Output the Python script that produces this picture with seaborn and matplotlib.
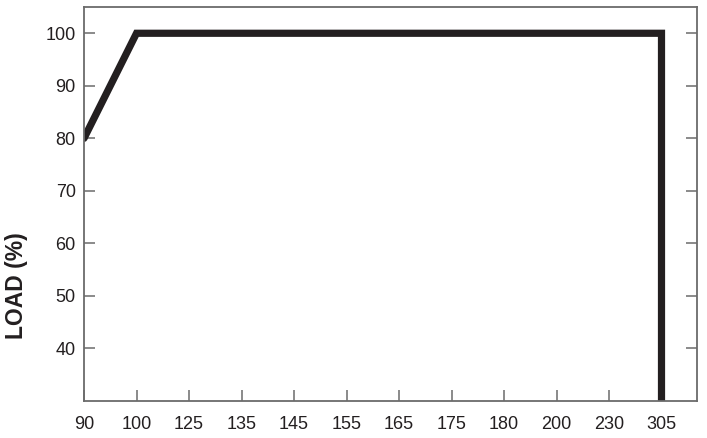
import matplotlib
matplotlib.use("Agg")
import matplotlib.pyplot as plt
import seaborn as sns
import pandas as pd

tick_labels = ["90", "100", "125", "135", "145", "155", "165", "175", "180", "200", "230", "305"]
curve_x = ["90", "100", "305", "305"]
curve_y = [80, 100, 100, 30]
y_ticks = [40, 50, 60, 70, 80, 90, 100]

sns.set_style("white")
plt.rcParams['font.family'] = ['Liberation Sans', 'DejaVu Sans']

pos = {lab: i for i, lab in enumerate(tick_labels)}
df = pd.DataFrame({"x": [pos[v] for v in curve_x], "y": curve_y})

fig = plt.figure(figsize=(7.07, 4.38), dpi=100)
ax = fig.add_axes([84/707, 1-401/438, (697-84)/707, (401-7)/438])
sns.lineplot(data=df, x="x", y="y", sort=False, estimator=None, ax=ax,
             color="#231f20", linewidth=5.2, solid_joinstyle="miter")

ax.set_xlim(0, (697-84)/52.5)
ax.set_ylim(30, 105)
ax.set_xticks(range(len(tick_labels)))
ax.set_xticklabels(tick_labels)
ax.set_yticks(y_ticks)
ax.set_xlabel("")
ax.set_ylabel("LOAD (%)", fontsize=16.5, fontweight="bold", color="#231f20")
ax.yaxis.set_label_coords(-0.092, 0.292)

spine_c = "#6b6b6b"
for s in ax.spines.values():
    s.set_color(spine_c)
    s.set_linewidth(1.3)
    s.set_visible(True)
ax.tick_params(axis="both", direction="in", length=8, width=1.1, color=spine_c,
               labelsize=13, labelcolor="#231f20")
ax.tick_params(axis="y", left=True, right=True, pad=6)
ax.tick_params(axis="x", bottom=True, pad=11)

fig.savefig("out.png", dpi=100)
